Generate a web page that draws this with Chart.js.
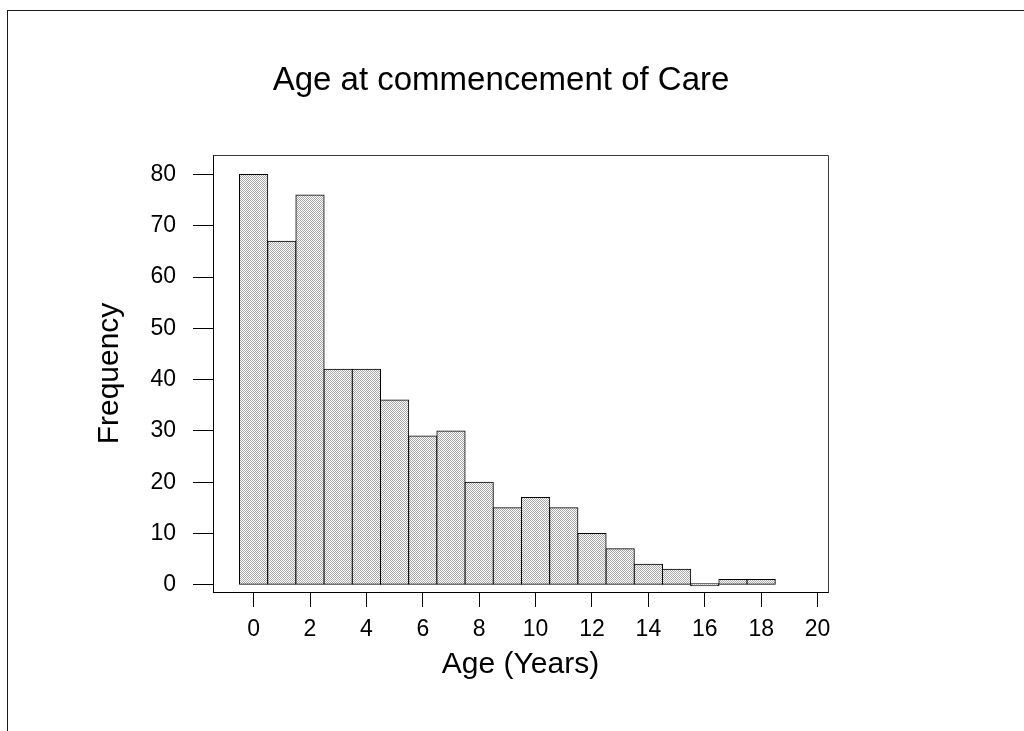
<!DOCTYPE html>
<html>
<head>
<meta charset="utf-8">
<script src="https://cdn.jsdelivr.net/npm/chart.js@4.4.1/dist/chart.umd.min.js"></script>
<style>
  html, body { margin: 0; padding: 0; background: #ffffff; overflow: hidden; }
  #wrap { position: relative; width: 1024px; height: 731px; }
  #frame { position: absolute; left: 7px; top: 10px; width: 1100px; height: 800px;
           border-left: 1px solid #1a1a1a; border-top: 1px solid #1a1a1a; pointer-events: none; }
  canvas { position: absolute; left: 0; top: 0; }
</style>
</head>
<body>
<div id="wrap">
  <canvas id="c" width="1024" height="731"></canvas>
  <div id="frame"></div>
</div>
<script>
// ---- data ----
const ages = [0, 1, 2, 3, 4, 5, 6, 7, 8, 9, 10, 11, 12, 13, 14, 15, 16, 17, 18];
const frequencies = [80, 67, 76, 42, 42, 36, 29, 30, 20, 15, 17, 15, 10, 7, 4, 3, 0, 1, 1];
const xTickValues = [0, 2, 4, 6, 8, 10, 12, 14, 16, 18, 20];
const yTickValues = [0, 10, 20, 30, 40, 50, 60, 70, 80];
const chartTitle = 'Age at commencement of Care';
const xTitle = 'Age (Years)';
const yTitle = 'Frequency';

// ---- fill pattern (fine grey dither) ----
function makePattern() {
  const p = document.createElement('canvas');
  p.width = 2; p.height = 2;
  const g = p.getContext('2d');
  g.fillStyle = '#ffffff'; g.fillRect(0, 0, 2, 2);
  g.fillStyle = '#a8a8a8'; g.fillRect(0, 0, 1, 1); g.fillRect(1, 1, 1, 1);
  return document.getElementById('c').getContext('2d').createPattern(p, 'repeat');
}
const pattern = makePattern();

const FONT = "'Liberation Sans', Arial, Helvetica, sans-serif";

const boxPlugin = {
  id: 'plotBox',
  afterDraw(chart) {
    const {ctx, chartArea: a} = chart;
    ctx.save();
    ctx.strokeStyle = '#3a3a3a';
    ctx.lineWidth = 1;
    ctx.beginPath();
    ctx.moveTo(Math.round(a.left) + 0.5, Math.round(a.top) + 0.5);
    ctx.lineTo(Math.round(a.right) + 0.5, Math.round(a.top) + 0.5);
    ctx.lineTo(Math.round(a.right) + 0.5, Math.round(a.bottom) + 0.5);
    ctx.stroke();
    ctx.restore();
  }
};

new Chart(document.getElementById('c'), {
  type: 'bar',
  data: {
    datasets: [{
      data: ages.map((a, i) => ({x: a, y: frequencies[i]})),
      backgroundColor: pattern,
      borderColor: '#000000',
      borderWidth: 1,
      borderSkipped: false,
      inflateAmount: 0.5,
      minBarLength: 2,
      barPercentage: 1,
      categoryPercentage: 1
    }]
  },
  options: {
    responsive: false,
    animation: false,
    devicePixelRatio: 1,
    layout: { padding: { left: 0, right: 22, top: 0, bottom: 0 } },
    plugins: {
      legend: { display: false },
      tooltip: { enabled: false },
      title: {
        display: true,
        text: chartTitle,
        color: '#000000',
        font: { family: FONT, size: 33, weight: 'normal' },
        padding: { top: 61, bottom: 54.4 }
      }
    },
    scales: {
      x: {
        type: 'linear',
        position: 'bottom',
        offset: false,
        min: -1.44,
        max: 20.37,
        afterBuildTicks: s => { s.ticks = xTickValues.map(v => ({value: v})); },
        afterFit: s => { s.height = 139; },
        grid: { display: true, offset: false, drawOnChartArea: false, drawTicks: true, tickLength: 15, color: '#000000', lineWidth: 1 },
        border: { display: true, color: '#000000', width: 1 },
        ticks: { color: '#000000', font: { family: FONT, size: 23 }, padding: 9, maxRotation: 0, autoSkip: false },
        title: { display: true, text: xTitle, color: '#000000', font: { family: FONT, size: 30 }, padding: { top: 0, bottom: 48 } }
      },
      y: {
        type: 'linear',
        position: 'left',
        min: -1.42,
        max: 83.8,
        afterBuildTicks: s => { s.ticks = yTickValues.map(v => ({value: v})); },
        afterFit: s => { s.width = 213; },
        grid: { display: true, drawOnChartArea: false, drawTicks: true, tickLength: 20, color: '#000000', lineWidth: 1 },
        border: { display: true, color: '#000000', width: 1 },
        ticks: { color: '#000000', font: { family: FONT, size: 23 }, padding: 17, autoSkip: false },
        title: { display: true, text: yTitle, color: '#000000', font: { family: FONT, size: 30 }, padding: { top: 92, bottom: 0 } }
      },
      y2: {
        type: 'linear',
        position: 'right',
        min: 0,
        max: 1,
        afterFit: s => { s.width = 174; },
        grid: { display: false, drawOnChartArea: false },
        border: { display: false },
        ticks: { display: false }
      }
    }
  },
  plugins: [boxPlugin]
});
</script>
</body>
</html>
